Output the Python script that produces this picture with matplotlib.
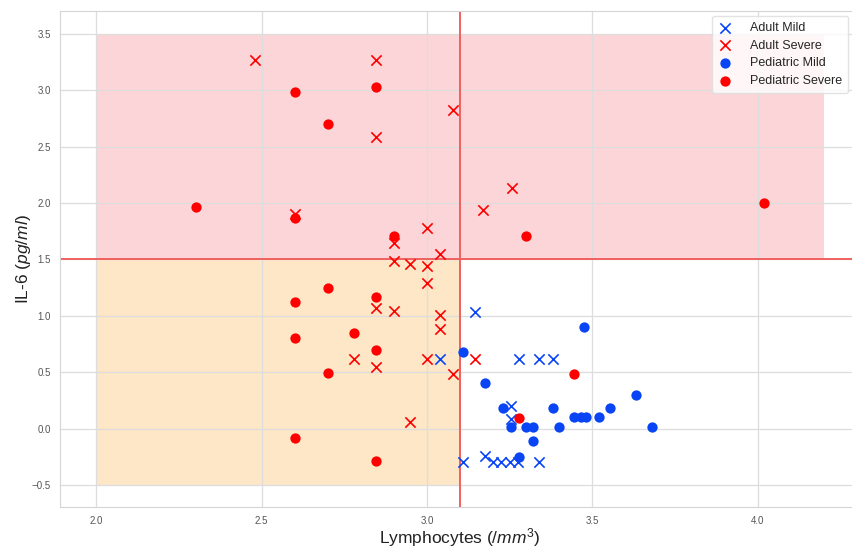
import matplotlib
matplotlib.use("Agg")
import matplotlib.pyplot as plt
import seaborn as sns

sns.set_style("whitegrid")
plt.rcParams['font.family'] = ['Liberation Sans', 'DejaVu Sans']
plt.rcParams['mathtext.fontset'] = 'custom'
plt.rcParams['mathtext.rm'] = 'Liberation Sans'
plt.rcParams['mathtext.it'] = 'Liberation Sans:italic'

# ---- data ----
adult_mild_x = [3.04, 3.145, 3.277, 3.34, 3.38, 3.253, 3.253, 3.11, 3.175, 3.20, 3.225, 3.25, 3.275, 3.34]
adult_mild_y = [0.615, 1.03, 0.615, 0.615, 0.615, 0.20, 0.086, -0.30, -0.24, -0.30, -0.30, -0.30, -0.30, -0.30]

adult_severe_x = [2.48, 2.845, 3.08, 2.845, 3.257, 3.17, 2.60, 2.90, 3.00, 3.04, 2.90, 2.95, 3.00,
                  3.00, 2.845, 2.90, 3.04, 3.04, 2.78, 2.845, 3.00, 3.08, 3.145, 2.95]
adult_severe_y = [3.27, 3.27, 2.83, 2.59, 2.13, 1.94, 1.90, 1.65, 1.78, 1.545, 1.49, 1.46, 1.44,
                  1.29, 1.07, 1.04, 1.01, 0.88, 0.62, 0.55, 0.615, 0.48, 0.615, 0.06]

ped_mild_x = [3.11, 3.475, 3.175, 3.632, 3.23, 3.38, 3.555, 3.445, 3.467, 3.48, 3.52,
              3.254, 3.30, 3.32, 3.40, 3.68, 3.32, 3.277]
ped_mild_y = [0.675, 0.90, 0.40, 0.30, 0.18, 0.18, 0.18, 0.10, 0.10, 0.10, 0.10,
              0.01, 0.01, 0.01, 0.01, 0.01, -0.11, -0.255]

ped_severe_x = [2.30, 2.60, 2.70, 2.845, 2.60, 2.90, 3.30, 4.02, 2.70, 2.60, 2.845, 2.78,
                2.60, 2.845, 2.70, 2.60, 2.845, 3.445, 3.277]
ped_severe_y = [1.965, 2.99, 2.70, 3.03, 1.87, 1.705, 1.71, 2.00, 1.25, 1.125, 1.17, 0.85,
                0.805, 0.70, 0.49, -0.08, -0.29, 0.48, 0.09]

lymph_cut = 3.1
il6_cut = 1.5
x_lo, x_hi = 2.0, 4.2
y_lo, y_hi = -0.5, 3.5

BLUE = '#0a45f5'
RED = '#ff0000'

fig = plt.figure(figsize=(8.53, 5.49), dpi=100)
ax = fig.add_axes([0.0703, 0.0756, 0.938, 0.9035])

ax.fill_between([x_lo, x_hi], il6_cut, y_hi, color='#f45a64', alpha=0.25, linewidth=0, zorder=0.5)
ax.fill_between([x_lo, lymph_cut], y_lo, il6_cut, color='#fbb048', alpha=0.3, linewidth=0, zorder=0.5)
ax.axhline(il6_cut, color='#f06060', lw=1.4, zorder=1)
ax.axvline(lymph_cut, color='#f06060', lw=1.4, zorder=1)

ax.scatter(adult_mild_x, adult_mild_y, marker='x', s=55, color=BLUE, linewidths=1.2, label='Adult Mild', zorder=3)
ax.scatter(adult_severe_x, adult_severe_y, marker='x', s=55, color=RED, linewidths=1.2, label='Adult Severe', zorder=3)
ax.scatter(ped_mild_x, ped_mild_y, marker='o', s=55, color=BLUE, linewidths=0, label='Pediatric Mild', zorder=4)
ax.scatter(ped_severe_x, ped_severe_y, marker='o', s=55, color=RED, linewidths=0, label='Pediatric Severe', zorder=4)

ax.set_xlim(1.89, 4.31)
ax.set_ylim(-0.7, 3.7)
ax.set_xticks([2.0, 2.5, 3.0, 3.5, 4.0])
ax.set_yticks([-0.5, 0.0, 0.5, 1.0, 1.5, 2.0, 2.5, 3.0, 3.5])
ax.tick_params(axis='x', labelsize=7, colors='#555555', pad=2.5)
ax.tick_params(axis='y', labelsize=7, colors='#555555', pad=3)
ax.grid(color='#dddddd', lw=0.9)
for s in ax.spines.values():
    s.set_color('#d5d5d5')

ax.set_xlabel(r'Lymphocytes ($/mm^3$)', fontsize=12.5, color='#222222', labelpad=0)
ax.set_ylabel(r'IL-6 ($pg/ml$)', fontsize=12.5, color='#222222', labelpad=-1)

leg = ax.legend(loc='upper right', fontsize=9, frameon=True, bbox_to_anchor=(0.993, 1.004),
                borderpad=0.5, handlelength=1.0, handletextpad=1.5, labelspacing=0.45)
leg.get_frame().set_edgecolor('#dddddd')

fig.savefig('out.png', dpi=100)
